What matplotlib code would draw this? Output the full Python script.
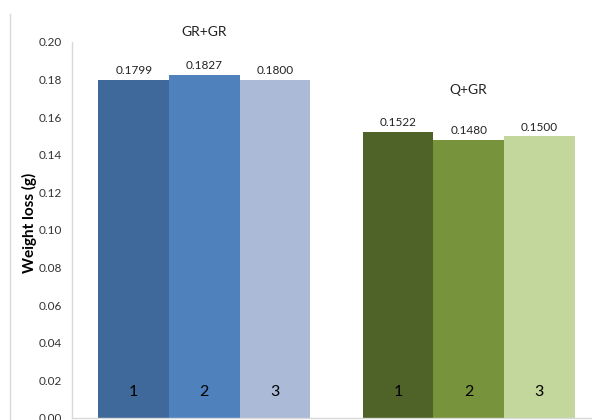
import numpy as np
import matplotlib.pyplot as plt
from matplotlib.lines import Line2D

plt.rcParams['font.family'] = ['Lato', 'DejaVu Sans']

# data
groups = ["GR+GR", "Q+GR"]
samples = ["1", "2", "3"]
gr_gr = [0.1799, 0.1827, 0.1800]
q_gr = [0.1522, 0.1480, 0.1500]
blues = ["#40699B", "#4F81BD", "#AABAD7"]
greens = ["#4F6228", "#77933C", "#C3D69B"]

fig = plt.figure(figsize=(5.92, 4.20), dpi=100)
# axes runs a little past the right edge of the picture, like the original
ax = fig.add_axes([72 / 592, 2 / 420, 529 / 592, 376 / 420])

width = 0.2667
offsets = np.array([-1, 0, 1]) * width

for gi, (vals, cols) in enumerate([(gr_gr, blues), (q_gr, greens)]):
    xs = gi + offsets
    ax.bar(xs, vals, width=width, color=cols, edgecolor="none")
    for x, v, s in zip(xs, vals, samples):
        ax.annotate(f"{v:.4f}", (x, v), xytext=(0, 2.5), textcoords="offset points",
                    ha="center", va="bottom", fontsize=8.5, color="#222222")
        ax.text(x, 0.014, s, ha="center", va="center", fontsize=11.5, color="black")
    ax.text(gi, max(vals) + 0.0225, groups[gi], ha="center", va="center",
            fontsize=10, color="#222222", clip_on=False)

ax.set_xlim(-0.5, 1.5)
ax.set_ylim(0, 0.20)
ticks = np.arange(0, 0.201, 0.02)
ax.set_yticks(ticks)
ax.set_yticklabels([f"{t:.2f}" for t in ticks])
ax.set_xticks([])
ax.tick_params(axis="y", length=0, pad=7, labelsize=8.5, labelcolor="#333333")

for side in ["top", "right"]:
    ax.spines[side].set_visible(False)
for side in ["left", "bottom"]:
    ax.spines[side].set_color("#D9D9D9")
    ax.spines[side].set_linewidth(1)

ax.set_ylabel("Weight loss (g)", fontsize=11, fontweight="bold")
ax.yaxis.set_label_coords(-0.066, 0.519)

# chart-area border on the left
fig.add_artist(Line2D([9.5 / 592, 9.5 / 592], [0, (420 - 14) / 420],
                      transform=fig.transFigure, color="#D9D9D9", lw=1))

fig.savefig("out.png", dpi=100)
